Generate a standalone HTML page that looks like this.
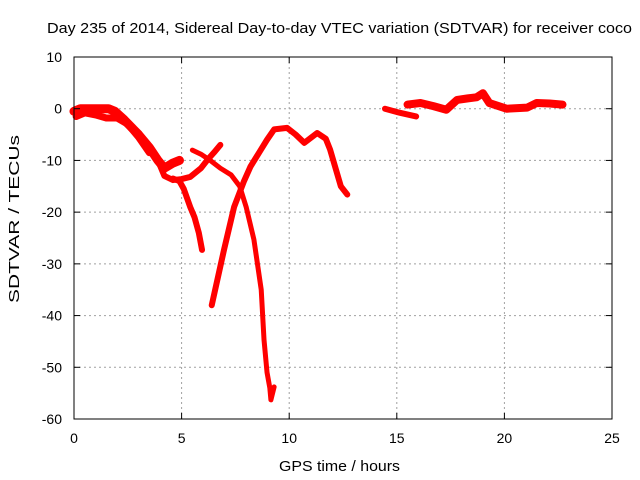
<!DOCTYPE html>
<html><head><meta charset="utf-8"><style>
body{margin:0;background:#fff}
svg{display:block;font-family:"Liberation Sans",Arial,sans-serif}
</style></head><body>
<svg id="chart" width="640" height="480" viewBox="0 0 640 480">
<rect width="640" height="480" fill="#fff"/>
<text x="47" y="33" font-size="15" textLength="585" lengthAdjust="spacingAndGlyphs">Day 235 of 2014, Sidereal Day-to-day VTEC variation (SDTVAR) for receiver coco</text>
<g id="grid"></g>
<g id="series"></g>
<rect x="74" y="57" width="538" height="362" fill="none" stroke="#000" stroke-width="1"/>
<g id="ticks"></g>
<text x="279" y="471" font-size="15" textLength="121" lengthAdjust="spacingAndGlyphs">GPS time / hours</text>
<text transform="translate(19,303) rotate(-90)" font-size="15" textLength="168" lengthAdjust="spacingAndGlyphs">SDTVAR / TECUs</text>
</svg>
<script>
const xTicks=[0,5,10,15,20,25];
const yTicks=[10,0,-10,-20,-30,-40,-50,-60];
const s1h=[0,0.3,0.7,1.2,1.6,1.9,2.3,3.0,3.5,3.9,4.2,4.6,4.9];
const s1v=[-0.5,0,0,0,0,-0.5,-2,-5,-7.5,-10,-11.5,-10.5,-10];
const s1bh=[0.1,0.5,1.0,1.5,2.0,2.5,3.0,3.5];
const s1bv=[-1.5,-0.8,-1.2,-1.8,-1.8,-3,-5.5,-8.5];
const s2h=[3.9,4.2,4.6,5.0,5.4,5.9,6.2,6.5,6.8];
const s2v=[-10,-13,-13.8,-13.6,-13.2,-11.5,-9.9,-8.5,-7];
const s3h=[4.6,4.9,5.1,5.4,5.6,5.8,5.95];
const s3v=[-13.5,-14,-15.5,-19,-21,-24,-27.3];
const s4h=[5.5,5.9,6.3,6.8,7.3,7.7,8.0,8.36,8.7,8.83,8.97,9.1,9.15,9.3];
const s4v=[-8,-8.8,-9.9,-11.5,-12.8,-15,-19,-25.3,-35,-44.7,-51,-54,-56.3,-53.8];
const s5h=[6.4,6.97,7.44,7.9,8.2,8.6,8.97,9.3,9.9,10.3,10.7,11.3,11.7,11.9,12.4,12.7];
const s5v=[-38,-27.3,-19,-14,-11.2,-8.5,-6,-4,-3.7,-5,-6.6,-4.7,-5.8,-7.9,-15,-16.6];
const r1h=[14.45,15.15,15.9];
const r1v=[0,-0.8,-1.5];
const r2h=[15.5,16.1,16.7,17.3,17.8,18.3,18.7,19.0,19.3,20.1,21.05,21.5,22.1,22.7];
const r2v=[0.8,1.1,0.5,-0.2,1.7,2.0,2.2,3,1.1,0,0.2,1.1,1,0.8];
const X=h=>74+h*538/25;
const Y=v=>57+(10-v)*362/70;
const NS='http://www.w3.org/2000/svg';
const grid=document.getElementById('grid'),ticks=document.getElementById('ticks'),ser=document.getElementById('series');
function mk(tag,attrs,parent){const e=document.createElementNS(NS,tag);for(const k in attrs)e.setAttribute(k,attrs[k]);parent.appendChild(e);return e;}
xTicks.forEach(t=>{
 if(t>0&&t<25){const g=mk('line',{x1:X(t),x2:X(t),y1:57,y2:419,stroke:'#a0a0a0','stroke-dasharray':'2,3'},grid);
 
 }
 const tk=mk('text',{x:X(t),y:443,'font-size':14,'text-anchor':'middle'},ticks);tk.textContent=t;
 
 
 mk('line',{x1:X(t),x2:X(t),y1:419,y2:413,stroke:'#000'},ticks);
 mk('line',{x1:X(t),x2:X(t),y1:57,y2:63,stroke:'#000'},ticks);
});
yTicks.forEach(t=>{
 if(t<10&&t>-60){const g=mk('line',{x1:74,x2:612,y1:Y(t),y2:Y(t),stroke:'#a0a0a0','stroke-dasharray':'2,3'},grid);
 
 }
 const tk=mk('text',{x:62,y:Y(t)+5,'font-size':14,'text-anchor':'end'},ticks);tk.textContent=t;
 
 
 mk('line',{x1:74,x2:80,y1:Y(t),y2:Y(t),stroke:'#000'},ticks);
 mk('line',{x1:612,x2:606,y1:Y(t),y2:Y(t),stroke:'#000'},ticks);
});
function line(hs,vs,w,name){
 const p=mk('polyline',{points:hs.map((h,i)=>X(h)+','+Y(vs[i])).join(' '),fill:'none',stroke:'#f00','stroke-width':w,'stroke-linejoin':'round','stroke-linecap':'round'},ser);
 
 
}
line(s1h,s1v,9,'series-track-1');
line(s1bh,s1bv,7,'series-track-1b');
line(s2h,s2v,6,'series-track-2');
line(s3h,s3v,6,'series-track-3');
line(s4h,s4v,5,'series-track-4');
line(s5h,s5v,6,'series-track-5');
line(r1h,r1v,6,'series-track-6');
line(r2h,r2v,8,'series-track-7');
</script>
</body></html>
